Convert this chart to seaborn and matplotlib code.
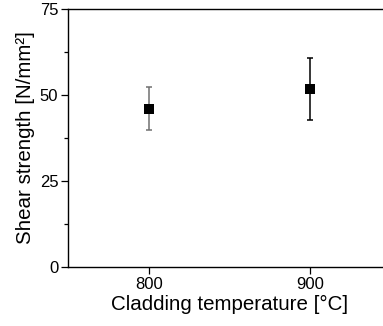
import matplotlib
matplotlib.use("Agg")
import matplotlib.pyplot as plt
import seaborn as sns
import pandas as pd
from matplotlib.ticker import MultipleLocator

sns.set_style("ticks")
plt.rcParams['font.family'] = ['Liberation Sans', 'DejaVu Sans']

temperatures = [800, 900]
shear_strength = [46.0, 51.7]
shear_err = [6.2, 9.0]
err_colors = ['#707070', '#000000']

df = pd.DataFrame({"temp": temperatures, "shear": shear_strength, "err": shear_err})

fig = plt.figure(figsize=(3.83, 3.26), dpi=100)
ax = fig.add_axes([68/383, 1 - 267/326, 1.02 - 68/383, (267 - 9)/326])

for t, s, e, c in zip(df["temp"], df["shear"], df["err"], err_colors):
    ax.errorbar(t, s, yerr=e, fmt='none', ecolor=c, elinewidth=1.1, capsize=2.2, capthick=1.1, zorder=2)
sns.scatterplot(data=df, x="temp", y="shear", marker='s', s=50, color='black', edgecolor='black', linewidth=0, ax=ax, zorder=3)

ax.set_xlim(750, 950)
ax.set_ylim(0, 75)
ax.set_xticks(temperatures)
ax.set_yticks([0, 25, 50, 75])
ax.yaxis.set_minor_locator(MultipleLocator(12.5))
ax.tick_params(axis='both', which='major', direction='out', length=5, width=0.9,
               labelsize=12, pad=2, colors='black', labelcolor='black')
ax.tick_params(axis='y', which='minor', direction='out', length=3, width=0.9, colors='black')
for sp in ['left', 'bottom', 'top']:
    ax.spines[sp].set_linewidth(1.0)
    ax.spines[sp].set_color('black')
ax.spines['right'].set_visible(False)
ax.set_xlabel("Cladding temperature [°C]", fontsize=14.8, labelpad=2, color='black')
ax.set_ylabel("Shear strength [N/mm²]", fontsize=14.8, labelpad=3, color='black')

fig.savefig("out.png", dpi=100)
